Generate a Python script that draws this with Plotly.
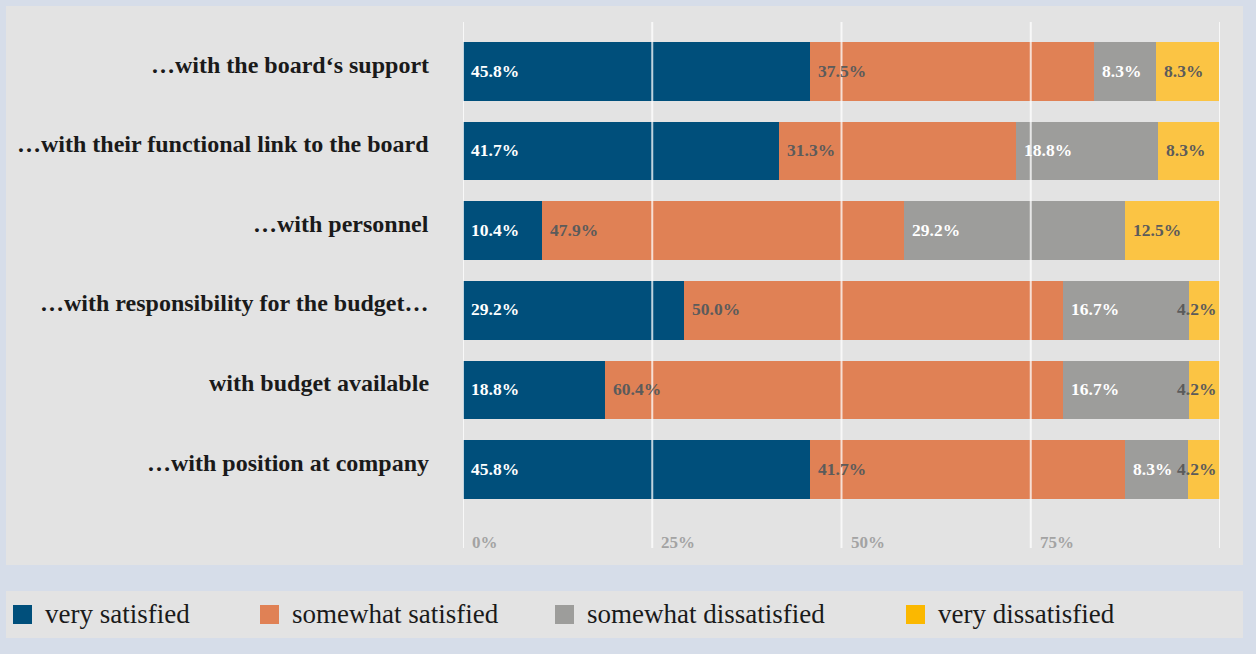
import plotly.graph_objects as go

# Survey items (top to bottom) and share of responses per satisfaction level
categories = [
    "…with the board‘s support",
    "…with their functional link to the board",
    "…with personnel",
    "…with responsibility for the budget…",
    "with budget available",
    "…with position at company",
]
series_names = ["very satisfied", "somewhat satisfied", "somewhat dissatisfied", "very dissatisfied"]
very_satisfied = [45.8, 41.7, 10.4, 29.2, 18.8, 45.8]
somewhat_satisfied = [37.5, 31.3, 47.9, 50.0, 60.4, 41.7]
somewhat_dissatisfied = [8.3, 18.8, 29.2, 16.7, 16.7, 8.3]
very_dissatisfied = [8.3, 8.3, 12.5, 4.2, 4.2, 4.2]
tick_values = [0, 25, 50, 75, 100]
tick_labels = ["0%", "25%", "50%", "75%", ""]

series = [very_satisfied, somewhat_satisfied, somewhat_dissatisfied, very_dissatisfied]
bar_colors = ["#004f7b", "#e08155", "#9d9d9b", "#fbc444"]
legend_colors = ["#004f7b", "#e08155", "#9d9d9b", "#fbb800"]
label_colors = ["#ffffff", "#5b5b5b", "#ffffff", "#5b5b5b"]

SERIF = "Liberation Serif"
W, H = 1256, 654
ML, MR, MT, MB = 463, 36, 22, 106
PW, PH = W - ML - MR, H - MT - MB


def px_x(p):
    return (p - ML) / PW


def px_y(p):
    return (H - MB - p) / PH


fig = go.Figure()
for name, vals, col in zip(series_names, series, bar_colors):
    fig.add_trace(go.Bar(
        y=categories, x=vals, name=name, orientation="h",
        marker=dict(color=col, line=dict(width=0)),
        width=0.737, showlegend=False, hoverinfo="x+y",
    ))

annotations = []

# category labels to the left of the bars
for cat in categories:
    annotations.append(dict(
        x=px_x(431), y=cat, xref="paper", yref="y", text=cat, showarrow=False,
        xanchor="right", yanchor="middle", yshift=7,
        font=dict(family=SERIF, size=24, color="#1a1a1a", weight="bold"),
    ))

# value labels inside each segment; narrow segments get right-aligned labels
cum = [0.0] * len(categories)
for vals, lc in zip(series, label_colors):
    for i, v in enumerate(vals):
        start = cum[i]
        end = start + v
        if v < 6:
            ax, anchor, shift = min(end, 100.0), "right", -2
        else:
            ax, anchor, shift = start, "left", 6
        annotations.append(dict(
            x=ax, y=categories[i], xref="x", yref="y", text=f"{v:.1f}%",
            showarrow=False, xanchor=anchor, yanchor="middle", xshift=shift, yshift=1,
            font=dict(family=SERIF, size=17.5, color=lc, weight="bold"),
        ))
        cum[i] = end

# axis tick labels sitting inside the plot, right of each gridline
for tv, tl in zip(tick_values, tick_labels):
    if tl:
        annotations.append(dict(
            x=tv, y=px_y(542), xref="x", yref="paper", text=tl, showarrow=False,
            xanchor="left", yanchor="middle", xshift=7,
            font=dict(family=SERIF, size=17, color="#a3a3a3", weight="bold"),
        ))

shapes = [
    # chart panel
    dict(type="rect", xref="paper", yref="paper", layer="below",
         x0=px_x(6), x1=px_x(1243), y0=px_y(565), y1=px_y(6),
         fillcolor="#e3e3e3", line=dict(width=0)),
    # legend panel
    dict(type="rect", xref="paper", yref="paper", layer="below",
         x0=px_x(6), x1=px_x(1243), y0=px_y(638), y1=px_y(591),
         fillcolor="#e3e3e3", line=dict(width=0)),
]
# gridlines drawn over the bars
for tv in tick_values:
    shapes.append(dict(type="line", xref="x", yref="paper", layer="above",
                       x0=tv, x1=tv, y0=0, y1=1,
                       line=dict(color="rgba(255,255,255,0.75)", width=2)))

# legend: swatch + label
legend_x = [13, 260, 555, 906]
for name, col, lx in zip(series_names, legend_colors, legend_x):
    shapes.append(dict(type="rect", xref="paper", yref="paper", layer="above",
                       x0=px_x(lx), x1=px_x(lx + 19), y0=px_y(624), y1=px_y(605),
                       fillcolor=col, line=dict(width=0)))
    annotations.append(dict(
        x=px_x(lx + 30), y=px_y(614), xref="paper", yref="paper", text=name,
        showarrow=False, xanchor="left", yanchor="middle",
        font=dict(family=SERIF, size=27, color="#1a1a1a"),
    ))

fig.update_layout(
    width=W, height=H, barmode="stack",
    margin=dict(l=ML, r=MR, t=MT, b=MB, pad=0),
    paper_bgcolor="#d6dde9", plot_bgcolor="rgba(0,0,0,0)",
    xaxis=dict(range=[0, 100], showgrid=False, zeroline=False,
               showticklabels=False, fixedrange=True),
    yaxis=dict(categoryorder="array", categoryarray=categories,
               range=[5.986, -0.622], showgrid=False, zeroline=False,
               showticklabels=False, ticks="", fixedrange=True),
    shapes=shapes, annotations=annotations, showlegend=False,
)

fig.write_html("out.html")
